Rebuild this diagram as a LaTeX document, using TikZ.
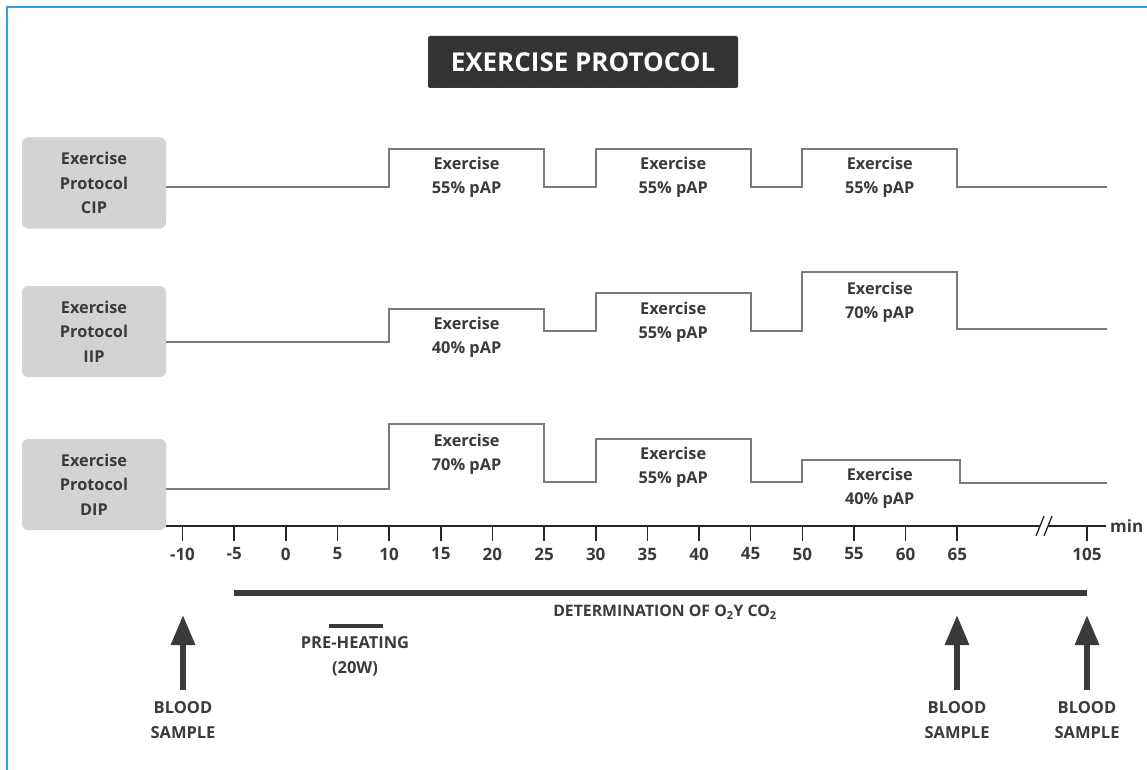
\documentclass[tikz,border=0pt]{standalone}
\usepackage{fontspec}
\setmainfont{Open Sans}
\usetikzlibrary{arrows.meta}
\definecolor{frameblue}{HTML}{2FA4DC}
\definecolor{txt}{HTML}{3A3A3A}
\definecolor{stepc}{HTML}{7A7A7A}
\definecolor{boxgray}{HTML}{D3D3D5}
\definecolor{titlebg}{HTML}{333333}
\definecolor{bar}{HTML}{3A3A3A}
\begin{document}
\begin{tikzpicture}[x=1pt,y=-1pt,
  declare function={tx(\t)=182.5+(\t+10)*10.33;},
  protobox/.style={fill=boxgray,rounded corners=6pt,minimum width=144pt,minimum height=91pt,
    text=txt,font=\bfseries\fontsize{16.3}{24.5}\selectfont,align=center,inner sep=0pt},
  steppath/.style={draw=stepc,line width=1.8pt},
  exlabel/.style={text=txt,font=\bfseries\fontsize{16.3}{24}\selectfont,align=center,inner sep=0pt},
  ticklabel/.style={text=txt,font=\bfseries\fontsize{17}{18}\selectfont,inner sep=0pt},
  bottomlabel/.style={text=txt,font=\bfseries\fontsize{16.5}{25}\selectfont,align=center,inner sep=0pt},
  bigarrow/.style={draw=bar,line width=6pt,-{Triangle[width=23pt,length=30pt]},fill=bar},
  tickmark/.style={draw=black!85,line width=1.6pt}]
\useasboundingbox (0,0) rectangle (1147,770);
% frame
\draw[frameblue,line width=1.4pt] (7,800) -- (7,7) -- (1160,7);
% title
\node[fill=titlebg,draw=gray!60,densely dotted,rounded corners=2pt,minimum width=310pt,minimum height=52pt,
  text=white,font=\bfseries\fontsize{26}{28}\selectfont,inner sep=0pt] (title) at (583,62) {EXERCISE PROTOCOL};
% protocol boxes
\node[protobox] (cip) at (94,183) {Exercise\\Protocol\\CIP};
\node[protobox] (iip) at (94,331.5) {Exercise\\Protocol\\IIP};
\node[protobox] (dip) at (94,484.5) {Exercise\\Protocol\\DIP};
% CIP steps
\draw[steppath] (cip.east |- 0,187) -- ({tx(10)},187) -- ({tx(10)},149) -- ({tx(25)},149) -- ({tx(25)},187)
  -- ({tx(30)},187) -- ({tx(30)},149) -- ({tx(45)},149) -- ({tx(45)},187)
  -- ({tx(50)},187) -- ({tx(50)},149) -- ({tx(65)},149) -- ({tx(65)},187) -- (1107,187);
\node[exlabel] (c1) at ({tx(17.5)},177.5) {Exercise\\55\% pAP};
\node[exlabel] (c2) at ({tx(37.5)},177.5) {Exercise\\55\% pAP};
\node[exlabel] (c3) at ({tx(57.5)},177.5) {Exercise\\55\% pAP};
% IIP steps
\draw[steppath] (iip.east |- 0,342) -- ({tx(10)},342) -- ({tx(10)},309) -- ({tx(25)},309) -- ({tx(25)},331)
  -- ({tx(30)},331) -- ({tx(30)},293) -- ({tx(45)},293) -- ({tx(45)},331)
  -- ({tx(50)},331) -- ({tx(50)},272) -- ({tx(65)},272) -- ({tx(65)},329) -- (1107,329);
\node[exlabel] (i1) at ({tx(17.5)},337.5) {Exercise\\40\% pAP};
\node[exlabel] (i2) at ({tx(37.5)},322.5) {Exercise\\55\% pAP};
\node[exlabel] (i3) at ({tx(57.5)},302) {Exercise\\70\% pAP};
% DIP steps
\draw[steppath] (dip.east |- 0,489) -- ({tx(10)},489) -- ({tx(10)},424) -- ({tx(25)},424) -- ({tx(25)},482)
  -- ({tx(30)},482) -- ({tx(30)},439) -- ({tx(45)},439) -- ({tx(45)},482)
  -- ({tx(50)},482) -- ({tx(50)},460) -- (960,460) -- (960,483) -- (1107,483);
\node[exlabel] (d1) at ({tx(17.5)},454.5) {Exercise\\70\% pAP};
\node[exlabel] (d2) at ({tx(37.5)},467.5) {Exercise\\55\% pAP};
\node[exlabel] (d3) at ({tx(57.5)},488.5) {Exercise\\40\% pAP};
% time axis
\coordinate (axstart) at (dip.east |- 0,526);
\coordinate (brk) at (1044,526);
\coordinate (axend) at (1106,526);
\draw[black!85,line width=1.8pt] (axstart) -- ([xshift=-4pt]brk);
\draw[black!85,line width=1.8pt] ([xshift=4pt]brk) -- (axend);
\draw[black!85,line width=1.3pt] (1036,536) -- (1044,516) (1044,536) -- (1052,516);
\node[ticklabel,anchor=west] (min) at (1110,526) {min};
\foreach \t/\l in {-10/-10,-5/-5,0/0,5/5,10/10,15/15,20/20,25/25,30/30,35/35,40/40,45/45,50/50,55/55,60/60,65/65}{
  \draw[tickmark] ({tx(\t)},526) -- ({tx(\t)},541);
  \node[ticklabel] at ({tx(\t)},554) {\l};
}
\draw[tickmark] (1087,526) -- (1087,541);
\node[ticklabel] (t105) at (1087,554) {105};
% determination bar
\coordinate (detA) at ({tx(-5)},593);
\coordinate (detB) at (1087,593);
\draw[bar,line width=6pt] (detA) -- (detB);
\node[text=txt,font=\bfseries\fontsize{15.8}{17}\selectfont,inner sep=0pt] (det) at (665,612)
  {DETERMINATION OF O\textsubscript{2}Y CO\textsubscript{2}};
% pre-heating
\coordinate (phA) at (329,626);
\coordinate (phB) at (383,626);
\draw[bar,line width=4pt] (phA) -- (phB);
\node[bottomlabel] (ph) at (355,656) {PRE-HEATING\\(20W)};
% blood samples
\node[bottomlabel] (b1) at (183,720) {BLOOD\\SAMPLE};
\node[bottomlabel] (b2) at (957,720) {BLOOD\\SAMPLE};
\node[bottomlabel] (b3) at (1087,720) {BLOOD\\SAMPLE};
\coordinate (a1) at (183,615);
\coordinate (a2) at (957,615);
\coordinate (a3) at (1087,615);
\draw[bigarrow,shorten <=11pt] (b1.north) -- (a1);
\draw[bigarrow,shorten <=11pt] (b2.north) -- (a2);
\draw[bigarrow,shorten <=11pt] (b3.north) -- (a3);
\end{tikzpicture}
\end{document}
